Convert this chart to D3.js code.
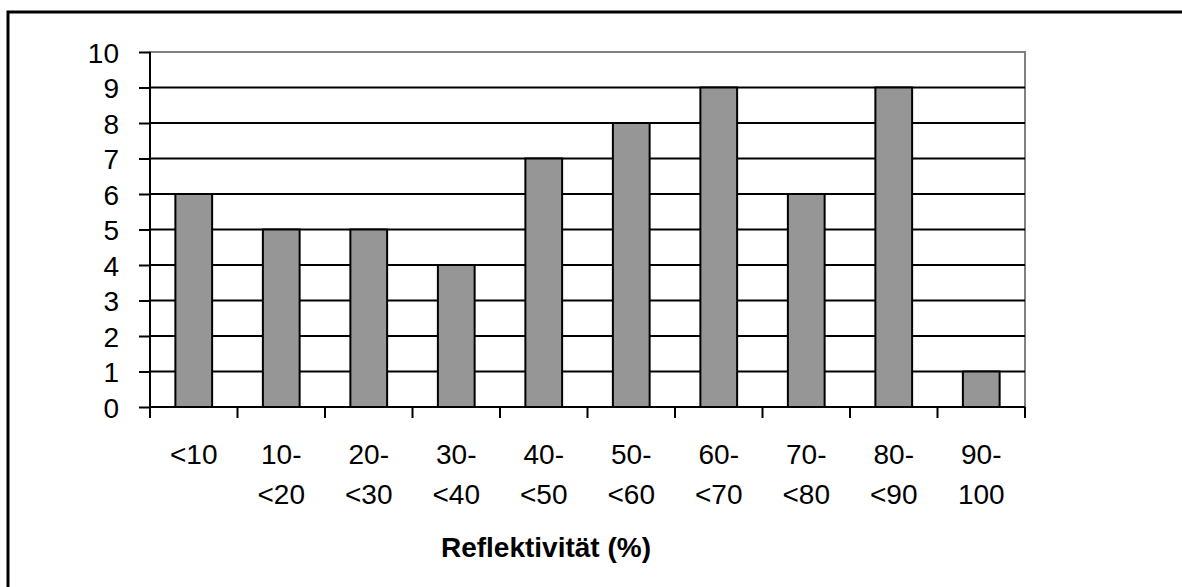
<!DOCTYPE html>
<html>
<head>
<meta charset="utf-8">
<script src="https://cdn.jsdelivr.net/npm/d3@7"></script>
<style>
  html, body { margin: 0; padding: 0; background: #fff; }
  svg { display: block; }
  text { font-family: Arial, "Liberation Sans", sans-serif; fill: #000; }
</style>
</head>
<body>
<script>
// Reflectivity classes (two-line labels) and number of samples per class
const categories = ["<10", "10-<20", "20-<30", "30-<40", "40-<50", "50-<60", "60-<70", "70-<80", "80-<90", "90-100"];
const labelLines = [["<10"], ["10-", "<20"], ["20-", "<30"], ["30-", "<40"], ["40-", "<50"], ["50-", "<60"], ["60-", "<70"], ["70-", "<80"], ["80-", "<90"], ["90-", "100"]];
const counts = [6, 5, 5, 4, 7, 8, 9, 6, 9, 1];
const yTicks = [0, 1, 2, 3, 4, 5, 6, 7, 8, 9, 10];
const xTitle = "Reflektivität (%)";

const W = 1182, H = 587;
const plot = { left: 150, right: 1025, top: 52, bottom: 407 };
const FONT = 28;

const svg = d3.select("body").append("svg").attr("width", W).attr("height", H);

// outer frame (runs past the right and bottom edges)
svg.append("rect")
  .attr("x", 8).attr("y", 12)
  .attr("width", W + 20).attr("height", H + 20)
  .attr("fill", "none").attr("stroke", "#000").attr("stroke-width", 3);

const x = d3.scaleBand().domain(categories).range([plot.left, plot.right]).paddingInner(0).paddingOuter(0);
const y = d3.scaleLinear().domain([0, 10]).range([plot.bottom, plot.top]);

// plot area border (grey, top and right)
svg.append("rect")
  .attr("x", plot.left).attr("y", plot.top)
  .attr("width", plot.right - plot.left).attr("height", plot.bottom - plot.top)
  .attr("fill", "none").attr("stroke", "#808080").attr("stroke-width", 2);

// horizontal gridlines
svg.append("g").selectAll("line")
  .data(yTicks.filter(d => d > 0 && d < 10))
  .join("line")
  .attr("x1", plot.left).attr("x2", plot.right)
  .attr("y1", d => y(d)).attr("y2", d => y(d))
  .attr("stroke", "#000").attr("stroke-width", 2);

// bars
const barW = x.bandwidth() * 0.42;
svg.append("g").selectAll("rect")
  .data(categories.map((c, i) => ({ c, v: counts[i] })))
  .join("rect")
  .attr("x", d => x(d.c) + (x.bandwidth() - barW) / 2)
  .attr("y", d => y(d.v))
  .attr("width", barW)
  .attr("height", d => y(0) - y(d.v))
  .attr("fill", "#969696")
  .attr("stroke", "#000").attr("stroke-width", 2);

// y axis
const yAxis = d3.axisLeft(y).tickValues(yTicks).tickSize(11).tickPadding(20).tickFormat(d3.format("d"));
const gy = svg.append("g").attr("transform", `translate(${plot.left},0)`).call(yAxis);
gy.attr("font-size", FONT).attr("font-family", "Arial, 'Liberation Sans', sans-serif");
gy.select(".domain").attr("stroke", "#000").attr("stroke-width", 2).attr("d", `M0,${plot.bottom}V${plot.top}`);
gy.selectAll(".tick line").attr("stroke", "#000").attr("stroke-width", 2);
gy.selectAll(".tick text").attr("font-size", FONT).attr("fill", "#000").attr("dy", "0.36em");

// x axis: ticks at category boundaries
const boundaries = categories.map(c => x(c)).concat([plot.right]);
const gx = svg.append("g");
gx.append("line")
  .attr("x1", plot.left).attr("x2", plot.right)
  .attr("y1", plot.bottom).attr("y2", plot.bottom)
  .attr("stroke", "#000").attr("stroke-width", 2);
gx.selectAll("line.tk")
  .data(boundaries)
  .join("line").attr("class", "tk")
  .attr("x1", d => d).attr("x2", d => d)
  .attr("y1", plot.bottom).attr("y2", plot.bottom + 11)
  .attr("stroke", "#000").attr("stroke-width", 2);

// two-line category labels
const lbl = gx.selectAll("text.cat")
  .data(categories.map((c, i) => ({ c, lines: labelLines[i] })))
  .join("text").attr("class", "cat")
  .attr("text-anchor", "middle")
  .attr("font-size", FONT);
lbl.selectAll("tspan")
  .data(d => d.lines.map(l => ({ l, c: d.c })))
  .join("tspan")
  .attr("x", d => x(d.c) + x.bandwidth() / 2)
  .attr("y", (d, i) => 464 + i * 40)
  .text(d => d.l);

// axis title
svg.append("text")
  .attr("x", 546).attr("y", 557)
  .attr("text-anchor", "middle")
  .attr("font-size", FONT).attr("font-weight", "bold")
  .text(xTitle);
</script>
</body>
</html>
